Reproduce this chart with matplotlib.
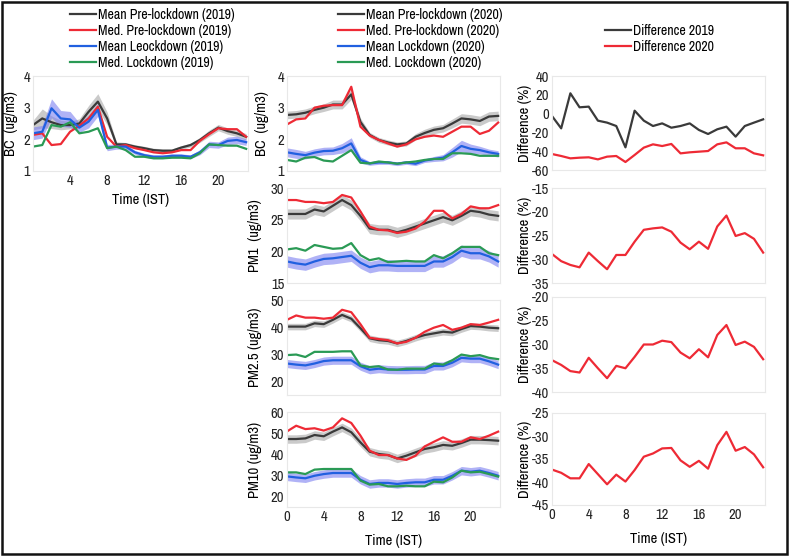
import matplotlib
matplotlib.use("Agg")
import matplotlib.pyplot as plt
from matplotlib import font_manager
from matplotlib.patches import Rectangle

# the reference text is narrow, use a condensed face when one is installed
found = {(f.name, f.stretch) for f in font_manager.fontManager.ttflist}
narrow = [(n, s) for n, s in sorted(found)
          if 'Narrow' in n or 'Condensed' in n or s in ('condensed', 'semi-condensed')]
if narrow:
    plt.rcParams['font.family'] = [narrow[0][0], 'Liberation Sans', 'DejaVu Sans']
    plt.rcParams['font.stretch'] = narrow[0][1]
    FS = 10
else:
    plt.rcParams['font.family'] = ['Liberation Sans', 'DejaVu Sans']
    FS = 9
plt.rcParams['axes.unicode_minus'] = False

hours = list(range(24))

# BC 2019
bc19_mean_pre = [2.45, 2.66, 2.54, 2.45, 2.45, 2.5, 2.87, 3.19, 2.66, 1.84, 1.84, 1.77,
                 1.72, 1.66, 1.64, 1.64, 1.74, 1.82, 1.98, 2.19, 2.37, 2.26, 2.19, 2.08]
bc19_med_pre = [2.14, 2.19, 1.82, 1.85, 2.24, 2.43, 2.66, 3.03, 2.08, 1.77, 1.82, 1.72,
                1.66, 1.59, 1.56, 1.59, 1.66, 1.66, 1.95, 2.16, 2.35, 2.32, 2.32, 2.08]
bc19_mean_lock = [2.19, 2.24, 2.98, 2.66, 2.63, 2.37, 2.56, 2.93, 1.74, 1.77, 1.77, 1.59,
                  1.5, 1.45, 1.45, 1.48, 1.48, 1.45, 1.59, 1.84, 1.82, 1.95, 1.98, 1.91]
bc19_med_lock = [1.77, 1.82, 2.45, 2.4, 2.54, 2.19, 2.24, 2.35, 1.72, 1.77, 1.66, 1.45,
                 1.45, 1.4, 1.4, 1.42, 1.42, 1.4, 1.56, 1.84, 1.82, 1.8, 1.8, 1.7]
bc19_pre_err = [0.15, 0.3, 0.2, 0.15, 0.12, 0.15, 0.2, 0.25, 0.2, 0.08, 0.06, 0.06,
                0.06, 0.06, 0.06, 0.06, 0.06, 0.06, 0.08, 0.1, 0.1, 0.1, 0.1, 0.1]
bc19_lock_err = [0.2, 0.2, 0.3, 0.25, 0.25, 0.15, 0.2, 0.2, 0.1, 0.08, 0.08, 0.06,
                 0.06, 0.06, 0.06, 0.06, 0.06, 0.06, 0.08, 0.1, 0.1, 0.12, 0.12, 0.1]

# BC 2020
bc20_mean_pre = [2.77, 2.79, 2.84, 2.93, 3.0, 3.1, 3.1, 3.42, 2.55, 2.14, 1.98, 1.9,
                 1.84, 1.87, 2.08, 2.2, 2.3, 2.35, 2.5, 2.66, 2.63, 2.58, 2.72, 2.74]
bc20_med_pre = [2.47, 2.63, 2.66, 3.0, 3.06, 3.08, 3.08, 3.66, 2.4, 2.12, 1.98, 1.87,
                1.77, 1.84, 2.0, 2.08, 2.12, 2.08, 2.24, 2.4, 2.4, 2.17, 2.27, 2.53]
bc20_mean_lock = [1.59, 1.54, 1.5, 1.58, 1.63, 1.64, 1.72, 1.87, 1.35, 1.24, 1.27, 1.27,
                  1.23, 1.27, 1.23, 1.33, 1.38, 1.42, 1.59, 1.79, 1.7, 1.66, 1.59, 1.54]
bc20_med_lock = [1.35, 1.3, 1.42, 1.44, 1.33, 1.3, 1.48, 1.66, 1.26, 1.24, 1.3, 1.27,
                 1.23, 1.27, 1.3, 1.35, 1.38, 1.38, 1.56, 1.56, 1.54, 1.48, 1.48, 1.48]
bc20_pre_err = [0.12, 0.12, 0.12, 0.12, 0.12, 0.14, 0.14, 0.16, 0.12, 0.08, 0.08, 0.08,
                0.08, 0.08, 0.1, 0.12, 0.12, 0.12, 0.14, 0.15, 0.15, 0.15, 0.15, 0.15]
bc20_lock_err = [0.14, 0.14, 0.12, 0.12, 0.12, 0.12, 0.15, 0.18, 0.1, 0.06, 0.06, 0.06,
                 0.06, 0.06, 0.06, 0.06, 0.08, 0.1, 0.15, 0.18, 0.15, 0.12, 0.1, 0.1]

# PM1 2020
pm1_mean_pre = [25.9, 25.9, 25.9, 26.6, 26.3, 27.2, 28.1, 27.3, 25.6, 23.6, 23.4, 23.4,
                23.0, 23.4, 23.9, 24.4, 24.9, 25.4, 24.9, 25.6, 26.4, 26.2, 25.8, 25.6]
pm1_med_pre = [28.1, 28.1, 27.8, 27.8, 27.6, 27.8, 28.9, 28.5, 26.3, 23.9, 23.4, 23.3,
               22.9, 23.1, 23.6, 24.7, 26.4, 26.4, 25.2, 25.9, 27.1, 26.8, 26.8, 27.3]
pm1_mean_lock = [18.4, 18.1, 17.9, 18.4, 18.8, 18.9, 19.1, 19.3, 18.2, 17.5, 17.8, 17.8,
                 17.7, 17.7, 17.7, 17.7, 18.4, 18.4, 19.1, 20.1, 19.7, 19.7, 19.2, 18.4]
pm1_med_lock = [20.3, 20.5, 20.1, 21.0, 20.7, 20.4, 20.5, 21.3, 19.4, 18.6, 18.9, 18.3,
                18.4, 18.5, 18.4, 18.4, 19.4, 18.9, 19.7, 20.7, 20.7, 20.7, 19.7, 19.4]
pm1_pre_err = 0.8
pm1_lock_err = 0.9

# PM2.5 2020
pm25_mean_pre = [40.2, 40.2, 40.2, 41.4, 41.1, 42.7, 44.5, 43.1, 39.6, 35.9, 35.2, 34.9,
                 34.0, 34.9, 36.1, 37.1, 37.7, 38.3, 38.0, 39.3, 40.4, 40.2, 39.8, 39.6]
pm25_med_pre = [42.7, 44.3, 43.5, 43.5, 43.1, 43.5, 46.4, 45.5, 41.1, 36.1, 35.6, 35.2,
                34.0, 34.6, 36.1, 38.3, 39.8, 40.8, 39.0, 39.8, 41.1, 40.8, 41.7, 42.7]
pm25_mean_lock = [26.6, 26.2, 25.9, 26.6, 27.5, 27.8, 27.8, 27.8, 25.6, 24.3, 24.7, 24.4,
                  24.3, 24.3, 24.4, 24.4, 25.7, 25.7, 26.9, 28.7, 28.4, 28.4, 27.4, 26.2]
pm25_med_lock = [29.7, 29.9, 29.0, 30.9, 30.9, 30.9, 31.1, 31.1, 25.9, 25.3, 25.6, 24.4,
                 24.3, 24.7, 24.7, 24.7, 26.6, 26.2, 27.8, 29.9, 29.3, 29.7, 28.7, 28.2]
pm25_pre_err = 1.2
pm25_lock_err = 1.5

# PM10 2020
pm10_mean_pre = [47.2, 47.2, 47.5, 49.1, 48.5, 50.7, 52.7, 50.4, 45.6, 41.2, 40.1, 39.6,
                 38.0, 39.3, 40.9, 42.5, 43.3, 44.4, 44.0, 45.3, 46.9, 46.9, 46.7, 46.4]
pm10_med_pre = [50.8, 53.5, 51.9, 52.3, 51.2, 52.7, 57.0, 54.8, 48.8, 41.7, 39.6, 39.6,
                38.0, 37.3, 39.3, 43.7, 45.9, 48.0, 45.9, 45.9, 48.0, 47.2, 48.8, 50.7]
pm10_mean_lock = [29.5, 29.0, 28.6, 29.8, 30.6, 31.1, 31.1, 31.1, 27.9, 25.9, 26.4, 26.4,
                  25.9, 26.4, 26.7, 26.7, 27.9, 27.9, 29.8, 32.2, 31.7, 32.2, 31.1, 29.8]
pm10_med_lock = [31.4, 31.4, 30.6, 32.7, 33.0, 33.0, 33.0, 33.0, 27.5, 25.6, 25.9, 24.8,
                 24.8, 25.1, 24.8, 24.8, 27.0, 26.7, 29.0, 32.2, 31.4, 31.7, 30.6, 29.4]
pm10_pre_err = 2.0
pm10_lock_err = 2.0

# Differences (%)
bc_diff_2019 = [-2.6, -15.7, 21.6, 6.7, 7.4, -7.5, -9.6, -13.2, -35.9, 3.1, -7.5, -13.2,
                -10.4, -15.0, -13.2, -10.4, -17.4, -21.7, -16.7, -13.9, -24.5, -13.2, -9.6, -6.1]
bc_diff_2020 = [-43.0, -45.1, -47.6, -46.9, -46.5, -48.7, -45.8, -45.1, -51.5, -44.0, -36.2, -32.7,
                -34.5, -32.3, -42.3, -41.2, -40.5, -39.8, -32.7, -30.6, -36.9, -36.9, -42.3, -44.4]
pm1_diff = [-28.9, -30.4, -31.2, -31.7, -28.6, -30.4, -32.1, -29.1, -29.1, -26.3, -23.8, -23.5,
            -23.3, -24.2, -26.5, -27.9, -26.3, -27.8, -23.1, -20.8, -25.1, -24.5, -25.7, -28.6]
pm25_diff = [-33.3, -34.3, -35.6, -35.9, -32.8, -35.0, -37.1, -34.5, -35.0, -32.6, -30.0, -30.0,
             -29.2, -29.5, -31.7, -32.9, -31.0, -32.7, -28.0, -25.9, -30.1, -29.4, -30.5, -33.1]
pm10_diff = [-37.3, -38.0, -39.2, -39.2, -36.1, -38.3, -40.5, -38.4, -39.9, -37.4, -34.5, -33.8,
             -32.7, -32.6, -35.3, -36.7, -35.4, -37.1, -32.0, -29.1, -33.2, -32.4, -34.0, -36.8]

C_BLACK = '#3a3a3a'
C_RED = '#ee2a35'
C_BLUE = '#2160e0'
C_GREEN = '#2a9a55'
C_GREYBAND = '#b4b4b4'
C_BLUEBAND = '#7c80f0'

W, H = 789, 556
fig = plt.figure(figsize=(W / 100, H / 100), dpi=100)

leg_kw = dict(loc='lower left', frameon=False, fontsize=FS, handlelength=1.85,
              handletextpad=0.2, labelspacing=0.15, borderaxespad=0.0, borderpad=0.0)


def make_ax(x0, x1, y0, y1):
    ax = fig.add_axes([x0 / W, 1 - y1 / H, (x1 - x0) / W, (y1 - y0) / H])
    for s in ax.spines.values():
        s.set_color('#e8e8e8')
        s.set_linewidth(0.8)
    ax.tick_params(length=0, labelsize=FS + 0.5, colors='#222222', pad=2)
    ax.set_xlim(0, 23.2)
    ax.set_xticks([0, 4, 8, 12, 16, 20])
    return ax


def band(ax, vals, err, color, alpha):
    errs = err if isinstance(err, list) else [err] * len(vals)
    ax.fill_between(hours, [v - e for v, e in zip(vals, errs)],
                    [v + e for v, e in zip(vals, errs)], color=color, alpha=alpha, lw=0)


def conc_panel(ax, mp, md, ml, mdl, pre_err, lock_err, labels):
    band(ax, mp, pre_err, C_GREYBAND, 0.7)
    band(ax, ml, lock_err, C_BLUEBAND, 0.6)
    l1, = ax.plot(hours, mp, color=C_BLACK, lw=1.6, label=labels[0])
    l2, = ax.plot(hours, md, color=C_RED, lw=1.6, label=labels[1])
    l3, = ax.plot(hours, ml, color=C_BLUE, lw=1.6, label=labels[2])
    l4, = ax.plot(hours, mdl, color=C_GREEN, lw=1.6, label=labels[3])
    return [l1, l2, l3, l4]


# left column: BC 2019
ax = make_ax(33, 248, 76, 171)
h19 = conc_panel(ax, bc19_mean_pre, bc19_med_pre, bc19_mean_lock, bc19_med_lock,
                 bc19_pre_err, bc19_lock_err,
                 ['Mean Pre-lockdown (2019)', 'Med. Pre-lockdown (2019)',
                  'Mean Leockdown (2019)', 'Med. Lockdown (2019)'])
ax.set_ylim(1, 4)
ax.set_yticks([1, 2, 3, 4])
ax.set_xticks([4, 8, 12, 16, 20])
ax.set_ylabel('BC  (ug/m3)', fontsize=FS + 0.5, labelpad=4)
ax.set_xlabel('Time (IST)', fontsize=FS + 0.5, labelpad=4)
ax.legend(handles=h19, bbox_to_anchor=((70 - 33) / 215, (76 - 70) / 95 + 1), **leg_kw)

# middle column: 2020
rows = [(76, 171), (188, 283), (300, 395), (412, 507)]
mid = [
    (bc20_mean_pre, bc20_med_pre, bc20_mean_lock, bc20_med_lock, bc20_pre_err, bc20_lock_err,
     (1, 4), [1, 2, 3, 4], 'BC  (ug/m3)'),
    (pm1_mean_pre, pm1_med_pre, pm1_mean_lock, pm1_med_lock, pm1_pre_err, pm1_lock_err,
     (15, 30), [15, 20, 25, 30], 'PM1  (ug/m3)'),
    (pm25_mean_pre, pm25_med_pre, pm25_mean_lock, pm25_med_lock, pm25_pre_err, pm25_lock_err,
     (15, 50), [20, 30, 40, 50], 'PM2.5 (ug/m3)'),
    (pm10_mean_pre, pm10_med_pre, pm10_mean_lock, pm10_med_lock, pm10_pre_err, pm10_lock_err,
     (15, 60), [20, 30, 40, 50, 60], 'PM10 (ug/m3)'),
]
labels20 = ['Mean Pre-lockdown (2020)', 'Med. Pre-lockdown (2020)',
            'Mean Lockdown (2020)', 'Med. Lockdown (2020)']
for i, (row, p) in enumerate(zip(rows, mid)):
    ax = make_ax(287, 500, row[0], row[1])
    hs = conc_panel(ax, p[0], p[1], p[2], p[3], p[4], p[5], labels20)
    ax.set_ylim(*p[6])
    ax.set_yticks(p[7])
    ax.set_ylabel(p[8], fontsize=FS + 0.5, labelpad=6)
    if i == 0:
        ax.legend(handles=hs, bbox_to_anchor=((338 - 287) / 213, (76 - 70) / 95 + 1), **leg_kw)
    if i < 3:
        ax.set_xticklabels([])
    else:
        ax.set_xlabel('Time (IST)', fontsize=FS + 0.5, labelpad=7)

# right column: differences
rrows = [(76, 170), (188, 283), (297, 392), (413, 505)]
diffs = [(pm1_diff, (-35, -15)), (pm25_diff, (-40, -20)), (pm10_diff, (-45, -25))]
ax = make_ax(552, 765, *rrows[0])
d1, = ax.plot(hours, bc_diff_2019, color=C_BLACK, lw=1.6, label='Difference 2019')
d2, = ax.plot(hours, bc_diff_2020, color=C_RED, lw=1.6, label='Difference 2020')
ax.set_ylim(-60, 40)
ax.set_yticks([-60, -40, -20, 0, 20, 40])
ax.set_xticklabels([])
ax.set_ylabel('Difference (%)', fontsize=FS + 0.5, labelpad=0)
ax.legend(handles=[d1, d2], bbox_to_anchor=((605 - 552) / 213, (76 - 54) / 94 + 1), **leg_kw)
for i, (row, (vals, lim)) in enumerate(zip(rrows[1:], diffs)):
    ax = make_ax(552, 765, row[0], row[1])
    ax.plot(hours, vals, color=C_RED, lw=1.6)
    ax.set_ylim(*lim)
    ax.set_yticks(list(range(lim[0], lim[1] + 1, 5)))
    ax.set_ylabel('Difference (%)', fontsize=FS + 0.5, labelpad=0)
    if i < 2:
        ax.set_xticklabels([])
    else:
        ax.set_xlabel('Time (IST)', fontsize=FS + 0.5, labelpad=7)

fig.patches.append(Rectangle((0.003, 0.004), 0.994, 0.993, transform=fig.transFigure,
                             fill=False, edgecolor='#111111', lw=1.8))

fig.savefig('out.png', dpi=100)
